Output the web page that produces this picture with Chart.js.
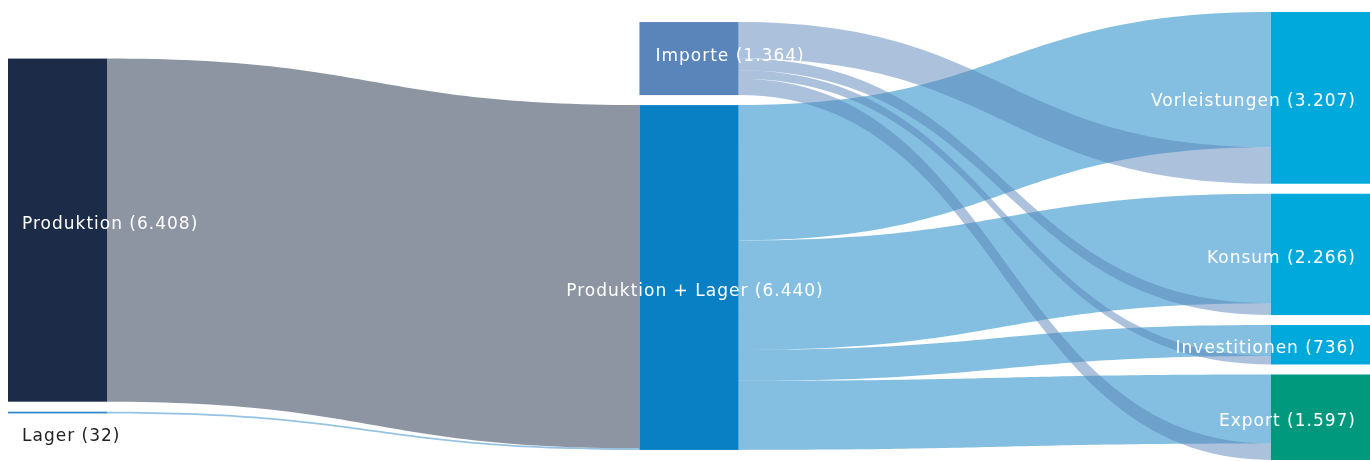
<!DOCTYPE html>
<html lang="de">
<head>
    <meta charset="UTF-8">
    <title>Produktion, Importe und Verwendung</title>
    <script src="https://cdn.jsdelivr.net/npm/chart.js"></script>
    <style>
        html, body { margin: 0; padding: 0; background: #fff; }
        .wrap { position: relative; width: 1370px; height: 461px; }
    </style>
</head>
<body>
    <div class="wrap">
        <canvas id="sankey"></canvas>
    </div>

    <script>
        // Knoten (Spalte 0 -> 1 -> 2)
        const nodeNames   = ['Produktion', 'Lager', 'Importe', 'Produktion + Lager', 'Vorleistungen', 'Konsum', 'Investitionen', 'Export'];
        const nodeColumns = [0, 0, 1, 1, 2, 2, 2, 2];
        const nodeValues  = [6408, 32, 1364, 6440, 3207, 2266, 736, 1597];
        const nodeColors  = ['#1b2b48', '#2c87c9', '#5a85ba', '#0a80c4', '#00a9dc', '#00a9dc', '#00a9dc', '#00997e'];

        // Flüsse (geschätzt)
        const linkFrom   = ['Produktion', 'Lager', 'Produktion + Lager', 'Produktion + Lager', 'Produktion + Lager', 'Produktion + Lager', 'Importe', 'Importe', 'Importe', 'Importe'];
        const linkTo     = ['Produktion + Lager', 'Produktion + Lager', 'Vorleistungen', 'Konsum', 'Investitionen', 'Export', 'Vorleistungen', 'Konsum', 'Investitionen', 'Export'];
        const linkValues = [6408, 32, 2527, 2046, 576, 1291, 680, 220, 160, 304];

        const NODE_GAP = 187;     // Abstand zwischen Knoten (in Werteinheiten)
        const NODE_W = 0.157;     // Knotenbreite (in x-Einheiten)
        const FONT = '17px "DejaVu Sans", Verdana, sans-serif';

        function fmt(v) {
            return String(v).replace(/\B(?=(\d{3})+(?!\d))/g, '.');
        }

        // Layout der Knoten in Werteinheiten
        const columns = [0, 1, 2];
        const spans = columns.map(c => {
            const vals = nodeValues.filter((v, i) => nodeColumns[i] === c);
            return vals.reduce((a, b) => a + b, 0) + NODE_GAP * (vals.length - 1);
        });
        const yMax = Math.max(...spans);
        const nodeTop = [], nodeBottom = [];
        columns.forEach(c => {
            let y = (yMax - spans[c]) / 2;
            nodeNames.forEach((n, i) => {
                if (nodeColumns[i] !== c) return;
                nodeTop[i] = y;
                nodeBottom[i] = y + nodeValues[i];
                y += nodeValues[i] + NODE_GAP;
            });
        });

        // Position der Flüsse an Quelle und Ziel
        const links = linkFrom.map((f, k) => ({ s: nodeNames.indexOf(f), t: nodeNames.indexOf(linkTo[k]), v: linkValues[k] }));
        nodeNames.forEach((n, i) => {
            let y = nodeTop[i];
            links.filter(l => l.s === i).sort((a, b) => nodeTop[a.t] - nodeTop[b.t]).forEach(l => { l.sy = y; y += l.v; });
            y = nodeTop[i];
            links.filter(l => l.t === i).sort((a, b) => b.v - a.v).forEach(l => { l.ty = y; y += l.v; });
        });

        function hexAlpha(hex, a) {
            const n = parseInt(hex.slice(1), 16);
            return 'rgba(' + (n >> 16) + ',' + ((n >> 8) & 255) + ',' + (n & 255) + ',' + a + ')';
        }

        // kleine Verschiebungen der Beschriftungen (px)
        const labelShift = { 'Produktion': -6, 'Lager': 5, 'Importe': -2, 'Produktion + Lager': 14 };

        const sankeyPlugin = {
            id: 'sankey',
            afterDatasetsDraw(chart) {
                const ctx = chart.ctx;
                const xs = chart.scales.x, ys = chart.scales.y;
                ctx.save();

                // Flüsse: zuerst Spalte 0, dann Produktion + Lager, dann Importe darüber
                const order = [0, 1, 3, 2];
                order.forEach(src => {
                    links.filter(l => l.s === src).forEach(l => {
                        const x0 = xs.getPixelForValue(nodeColumns[l.s] + NODE_W);
                        const x1 = xs.getPixelForValue(nodeColumns[l.t]);
                        const xm = (x0 + x1) / 2;
                        const a0 = ys.getPixelForValue(l.sy), b0 = ys.getPixelForValue(l.sy + l.v);
                        const a1 = ys.getPixelForValue(l.ty), b1 = ys.getPixelForValue(l.ty + l.v);
                        ctx.beginPath();
                        ctx.moveTo(x0, a0);
                        ctx.bezierCurveTo(xm, a0, xm, a1, x1, a1);
                        ctx.lineTo(x1, b1);
                        ctx.bezierCurveTo(xm, b1, xm, b0, x0, b0);
                        ctx.closePath();
                        ctx.fillStyle = hexAlpha(nodeColors[l.s], 0.5);
                        ctx.fill();
                    });
                });

                // Knoten
                nodeNames.forEach((n, i) => {
                    const x0 = xs.getPixelForValue(nodeColumns[i]);
                    const x1 = Math.min(xs.getPixelForValue(nodeColumns[i] + NODE_W), chart.chartArea.right);
                    const y0 = ys.getPixelForValue(nodeTop[i]);
                    const y1 = ys.getPixelForValue(nodeBottom[i]);
                    ctx.fillStyle = nodeColors[i];
                    ctx.fillRect(x0, y0, x1 - x0, Math.max(y1 - y0, 1.5));
                });

                // Beschriftungen
                ctx.font = FONT;
                ctx.letterSpacing = '1px';
                ctx.textBaseline = 'middle';
                nodeNames.forEach((n, i) => {
                    const text = n + ' (' + fmt(nodeValues[i]) + ')';
                    const x0 = xs.getPixelForValue(nodeColumns[i]);
                    const x1 = xs.getPixelForValue(nodeColumns[i] + NODE_W);
                    const y0 = ys.getPixelForValue(nodeTop[i]);
                    const y1 = ys.getPixelForValue(nodeBottom[i]);
                    let y = (y0 + y1) / 2;
                    ctx.fillStyle = '#ffffff';
                    if (y1 - y0 < 20) {
                        y = y1 + 18;
                        ctx.fillStyle = '#222222';
                    }
                    y += (n in labelShift) ? labelShift[n] : 4;
                    const w = ctx.measureText(text).width;
                    if (nodeColumns[i] === 0) {
                        ctx.textAlign = 'left';
                        ctx.fillText(text, x0 + 14, y);
                    } else if (nodeColumns[i] === 1) {
                        if (w > 200) {
                            ctx.textAlign = 'center';
                            ctx.fillText(text, (x0 + x1) / 2 + 6, y);
                        } else {
                            ctx.textAlign = 'left';
                            ctx.fillText(text, x0 + 16, y);
                        }
                    } else {
                        ctx.textAlign = 'right';
                        ctx.fillText(text, chart.chartArea.right - 14, y);
                    }
                });
                ctx.restore();
            }
        };

        const ctx = document.getElementById('sankey').getContext('2d');
        const chart = new Chart(ctx, {
            type: 'scatter',
            data: { datasets: [{ data: [] }] },
            options: {
                responsive: true,
                maintainAspectRatio: false,
                animation: false,
                layout: { padding: { left: 8, right: 0, top: 12, bottom: 1 } },
                plugins: { legend: { display: false }, tooltip: { enabled: false } },
                scales: {
                    x: { type: 'linear', display: false, min: 0, max: 2 + NODE_W },
                    y: { type: 'linear', display: false, min: 0, max: yMax, reverse: true }
                }
            },
            plugins: [sankeyPlugin]
        });
    </script>
</body>
</html>
